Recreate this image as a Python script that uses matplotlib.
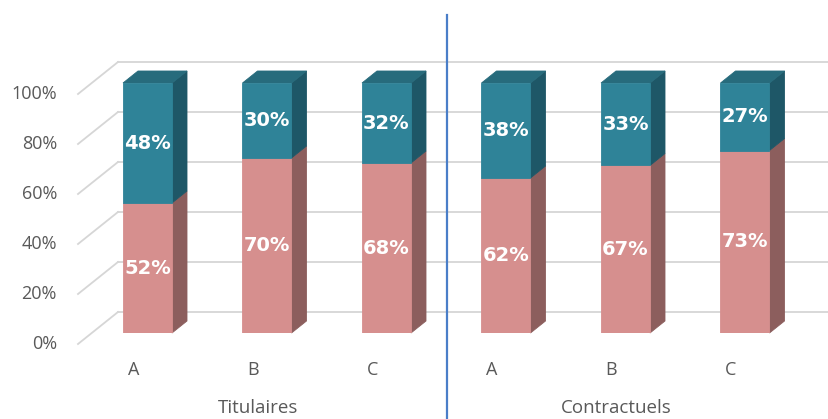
import matplotlib
matplotlib.use("Agg")
import matplotlib.pyplot as plt
from matplotlib.patches import Polygon
import matplotlib.transforms as mtransforms

# ---- data ----
groups = ["Titulaires", "Contractuels"]
categories = ["A", "B", "C", "A", "B", "C"]
bottom_vals = [52, 70, 68, 62, 67, 73]   # pink (lower) series
top_vals = [48, 30, 32, 38, 33, 27]      # teal (upper) series
yticks = [0, 20, 40, 60, 80, 100]
ytick_labels = ["0%", "20%", "40%", "60%", "80%", "100%"]

# ---- style ----
W, H, DPI = 829, 419, 100
pink_front, pink_side = "#d68f8e", "#8c5e5d"
teal_front, teal_side, teal_top = "#2f8398", "#1e5767", "#276b7c"
grid_c = "#d6d6d6"
txt_c = "#595959"
sep_c = "#4a7ec8"

fig = plt.figure(figsize=(W / DPI, H / DPI), dpi=DPI)
px_per_cat = 119.5
x_left_px = 147.5 - 0.5 * px_per_cat
y0_px, y100_px = 333, 83
px_per_pct = (y0_px - y100_px) / 100.0
ax = fig.add_axes([x_left_px / W, (H - y0_px) / H,
                   len(categories) * px_per_cat / W, (y0_px - y100_px) / H])
ax.set_xlim(-0.5, len(categories) - 0.5)
ax.set_ylim(0, 100)
ax.axis("off")

def dxy(px_x, px_y):
    return px_x / px_per_cat, px_y / px_per_pct

bar_w = 49 / px_per_cat
depth = dxy(15, 12)          # bar depth
back = dxy(26, 21)           # back wall offset
front = dxy(-14, -11)        # front floor/label plane offset

# grid: back wall lines + diagonal side lines
wall_left = -0.5 + (118 - x_left_px) / px_per_cat
for v in yticks:
    ax.plot([wall_left, 6.0], [v + back[1], v + back[1]], color=grid_c,
            lw=1.3, clip_on=False, zorder=1)
    fx = wall_left - (back[0] - front[0])
    ax.plot([fx, wall_left], [v + front[1], v + back[1]], color=grid_c,
            lw=1.3, clip_on=False, zorder=1)

# tick labels
tick_x = -0.5 + (57 - x_left_px) / px_per_cat
for v, lab in zip(yticks, ytick_labels):
    ax.text(tick_x, v + front[1], lab, ha="right", va="center",
            fontsize=13, color=txt_c, family="Open Sans", clip_on=False)

# bars
xs = list(range(len(categories)))
ax.bar(xs, bottom_vals, width=bar_w, color=pink_front, edgecolor=pink_front,
       linewidth=0.6, zorder=3)
ax.bar(xs, top_vals, width=bar_w, bottom=bottom_vals, color=teal_front,
       edgecolor=teal_front, linewidth=0.6, zorder=3)

def face(pts, color):
    ax.add_patch(Polygon(pts, closed=True, facecolor=color, edgecolor=color,
                         linewidth=0.6, zorder=2.9, clip_on=False))

for x, b, t in zip(xs, bottom_vals, top_vals):
    xl, xr, yt = x - bar_w / 2, x + bar_w / 2, b + t
    face([(xr, 0), (xr + depth[0], depth[1]), (xr + depth[0], b + depth[1]),
          (xr, b)], pink_side)
    face([(xr, b), (xr + depth[0], b + depth[1]),
          (xr + depth[0], yt + depth[1]), (xr, yt)], teal_side)
    face([(xl, yt), (xr, yt), (xr + depth[0], yt + depth[1]),
          (xl + depth[0], yt + depth[1])], teal_top)
    ax.text(x, b / 2, f"{b}%", ha="center", va="center", color="white",
            fontsize=14, fontweight="bold", zorder=5)
    ax.text(x, b + t / 2, f"{t}%", ha="center", va="center", color="white",
            fontsize=14, fontweight="bold", zorder=5)

# category labels
cat_y = (y0_px - 370) / px_per_pct
for x, c in zip(xs, categories):
    ax.text(x + front[0], cat_y, c, ha="center", va="center", fontsize=13,
            color=txt_c, family="Open Sans", clip_on=False)

grp_y = (y0_px - 408) / px_per_pct
for gi, g in enumerate(groups):
    ax.text(gi * 3 + 1 + front[0] + 0.04, grp_y, g, ha="center", va="center",
            fontsize=13.5, color=txt_c, family="Open Sans", clip_on=False)

# group separator
trans = mtransforms.blended_transform_factory(ax.transData, fig.transFigure)
ax.plot([2.51, 2.51], [0, 1 - 15 / H], color=sep_c, lw=1.6,
        transform=trans, clip_on=False, zorder=2)

fig.savefig("out.png", dpi=DPI, facecolor="white")
